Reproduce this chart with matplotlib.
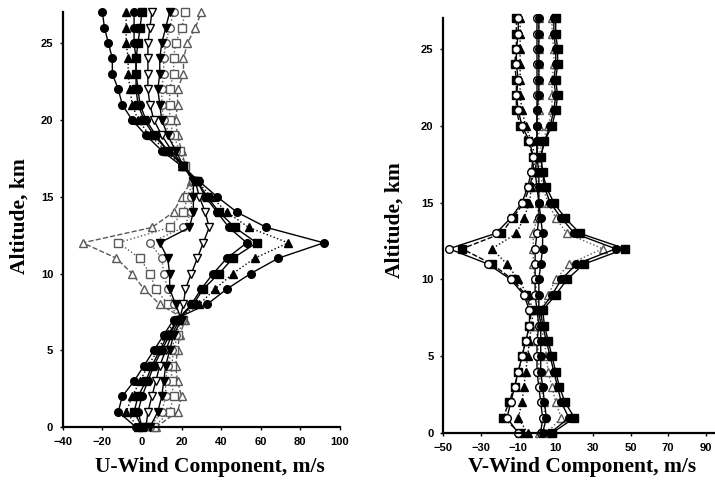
import matplotlib
matplotlib.use("Agg")
import matplotlib.pyplot as plt

# altitude levels, km
alt = list(range(28))

# U-wind profiles (m/s)
u_circ_a = [-3, -12, -10, -4, 1, 6, 11, 16, 33, 43, 55, 69, 92, 63, 48, 38, 29, 20, 10, 2, -5, -10, -12, -15, -15, -17, -19, -20]
u_tri_f = [-2, -8, -5, -1, 3, 8, 12, 17, 29, 37, 46, 57, 74, 54, 43, 35, 28, 20, 12, 4, -2, -5, -6, -7, -7, -8, -8, -8]
u_sq_f = [0, -4, -2, 2, 5, 9, 13, 18, 26, 31, 39, 46, 58, 47, 39, 33, 28, 21, 13, 6, 1, -2, -3, -3, -3, -2, -1, 0]
u_circ_b = [0, -2, 0, 3, 6, 10, 14, 18, 25, 30, 36, 43, 53, 44, 38, 32, 28, 21, 13, 7, 2, -1, -2, -3, -3, -4, -4, -4]
u_tdn_f = [4, 8, 10, 11, 12, 14, 16, 20, 17, 14, 14, 13, 9, 24, 26, 26, 26, 21, 17, 13, 10, 9, 8, 9, 9, 10, 12, 14]
u_tdn_o = [2, 3, 5, 7, 9, 12, 15, 19, 21, 22, 25, 28, 31, 34, 32, 29, 27, 21, 15, 10, 6, 4, 3, 3, 3, 3, 4, 5]
u_circ_o = [4, 10, 12, 12, 13, 15, 17, 20, 16, 13, 11, 10, 4, 21, 25, 25, 26, 21, 17, 14, 11, 10, 10, 11, 11, 12, 14, 16]
u_sq_o = [6, 14, 16, 15, 15, 16, 18, 21, 13, 7, 4, -1, -12, 14, 21, 23, 26, 22, 19, 16, 14, 14, 14, 16, 16, 17, 20, 22]
u_tup_o = [7, 18, 20, 18, 17, 18, 19, 22, 9, 1, -5, -13, -30, 5, 16, 20, 25, 22, 20, 18, 17, 18, 18, 21, 21, 23, 27, 30]

# V-wind profiles (m/s)
v_sq_a = [8, 20, 15, 12, 10, 8, 6, 4, 3, 10, 16, 25, 47, 23, 15, 9, 5, 3, 2, 4, 8, 10, 11, 10, 11, 11, 10, 10]
v_circ_a = [7, 17, 13, 11, 9, 7, 5, 3, 2, 8, 13, 21, 42, 20, 13, 7, 4, 3, 2, 4, 7, 9, 10, 9, 10, 10, 9, 9]
v_tri_o = [5, 13, 10, 8, 6, 5, 4, 2, 2, 6, 10, 17, 35, 16, 10, 6, 3, 2, 1, 3, 6, 8, 8, 8, 9, 9, 8, 8]
v_circ_o = [-10, -16, -14, -12, -10, -8, -6, -4, -4, -7, -14, -26, -47, -22, -14, -8, -5, -3, -2, -4, -8, -10, -11, -10, -11, -11, -10, -10]
v_sq_b = [-9, -18, -15, -12, -10, -8, -6, -4, -3, -6, -13, -24, -40, -19, -13, -7, -4, -2, -2, -5, -9, -11, -11, -11, -12, -11, -11, -11]
v_tri_f = [-5, -10, -8, -7, -6, -5, -4, -3, -2, -5, -10, -16, -24, -11, -7, -4, -3, -2, -1, -3, -6, -8, -9, -9, -9, -9, -9, -9]
v_circ_c = [2, 3, 2, 1, 0, 0, 0, 1, 0, -1, -1, -1, -1, 0, 1, 1, 0, -1, 0, 0, 0, 0, 0, 0, 0, 0, 0, 0]
v_tri_c = [1, 4, 4, 2, 1, 1, 0, 0, 1, 0, -1, -2, -2, -2, 0, 1, 1, 0, 0, 1, 1, 1, 1, 1, 1, 1, 1, 1]
v_circ_fc = [3, 5, 4, 3, 2, 2, 2, 2, 1, 1, 1, 2, 3, 3, 2, 1, 1, 1, 0, 0, 0, 0, 1, 1, 1, 1, 1, 1]

u_ticks = [-40, -20, 0, 20, 40, 60, 80, 100]
v_ticks = [-50, -30, -10, 10, 30, 50, 70, 90]
alt_ticks = [0, 5, 10, 15, 20, 25]

BLK = "black"
GRY = "0.35"


def prof(ax, x, marker, filled, ls, color):
    face = color if filled else "white"
    ax.plot(x, alt, linestyle=ls, color=color, lw=1.0, marker=marker, ms=5.5,
            mfc=face, mec=color, mew=1.0, clip_on=False)


def style_axes(ax, xticks):
    for s in ["top", "right"]:
        ax.spines[s].set_visible(False)
    for s in ["left", "bottom"]:
        ax.spines[s].set_linewidth(1.6)
    ax.set_xticks(xticks)
    ax.set_yticks(alt_ticks)
    ax.set_ylim(0, 27)
    ax.tick_params(length=2, width=1, pad=5, labelsize=8)
    for lab in ax.get_xticklabels() + ax.get_yticklabels():
        lab.set_fontweight("bold")
        lab.set_family("Liberation Sans")


fig = plt.figure(figsize=(7.15, 4.95), dpi=100)

ax1 = fig.add_axes([0.088, 0.137, 0.387, 0.838])
prof(ax1, u_tup_o, "^", False, "--", GRY)
prof(ax1, u_sq_o, "s", False, ":", GRY)
prof(ax1, u_circ_o, "o", False, ":", GRY)
prof(ax1, u_tdn_o, "v", False, "-", BLK)
prof(ax1, u_tdn_f, "v", True, "-", BLK)
prof(ax1, u_circ_b, "o", True, "-", BLK)
prof(ax1, u_sq_f, "s", True, "-", BLK)
prof(ax1, u_tri_f, "^", True, ":", BLK)
prof(ax1, u_circ_a, "o", True, "-", BLK)
ax1.set_xlim(-40, 100)
style_axes(ax1, u_ticks)

ax2 = fig.add_axes([0.620, 0.125, 0.380, 0.838])
prof(ax2, v_tri_f, "^", True, ":", BLK)
prof(ax2, v_tri_o, "^", False, ":", GRY)
prof(ax2, v_tri_c, "^", False, ":", GRY)
prof(ax2, v_circ_c, "o", False, "-", BLK)
prof(ax2, v_circ_fc, "o", True, "-", BLK)
prof(ax2, v_sq_b, "s", True, "--", BLK)
prof(ax2, v_circ_o, "o", False, "-", BLK)
prof(ax2, v_circ_a, "o", True, "-", BLK)
prof(ax2, v_sq_a, "s", True, "-", BLK)
ax2.set_xlim(-50, 95)
style_axes(ax2, v_ticks)

lab_font = dict(family="Liberation Serif", fontweight="bold", fontsize=15.5)
fig.text(0.028, 0.563, "Altitude, km", rotation=90, ha="center", va="center", **lab_font)
fig.text(0.552, 0.556, "Altitude, km", rotation=90, ha="center", va="center", **lab_font)
fig.text(0.294, 0.056, "U-Wind Component, m/s", ha="center", va="center", **lab_font)
fig.text(0.814, 0.056, "V-Wind Component, m/s", ha="center", va="center", **lab_font)

fig.savefig("out.png", dpi=100)
